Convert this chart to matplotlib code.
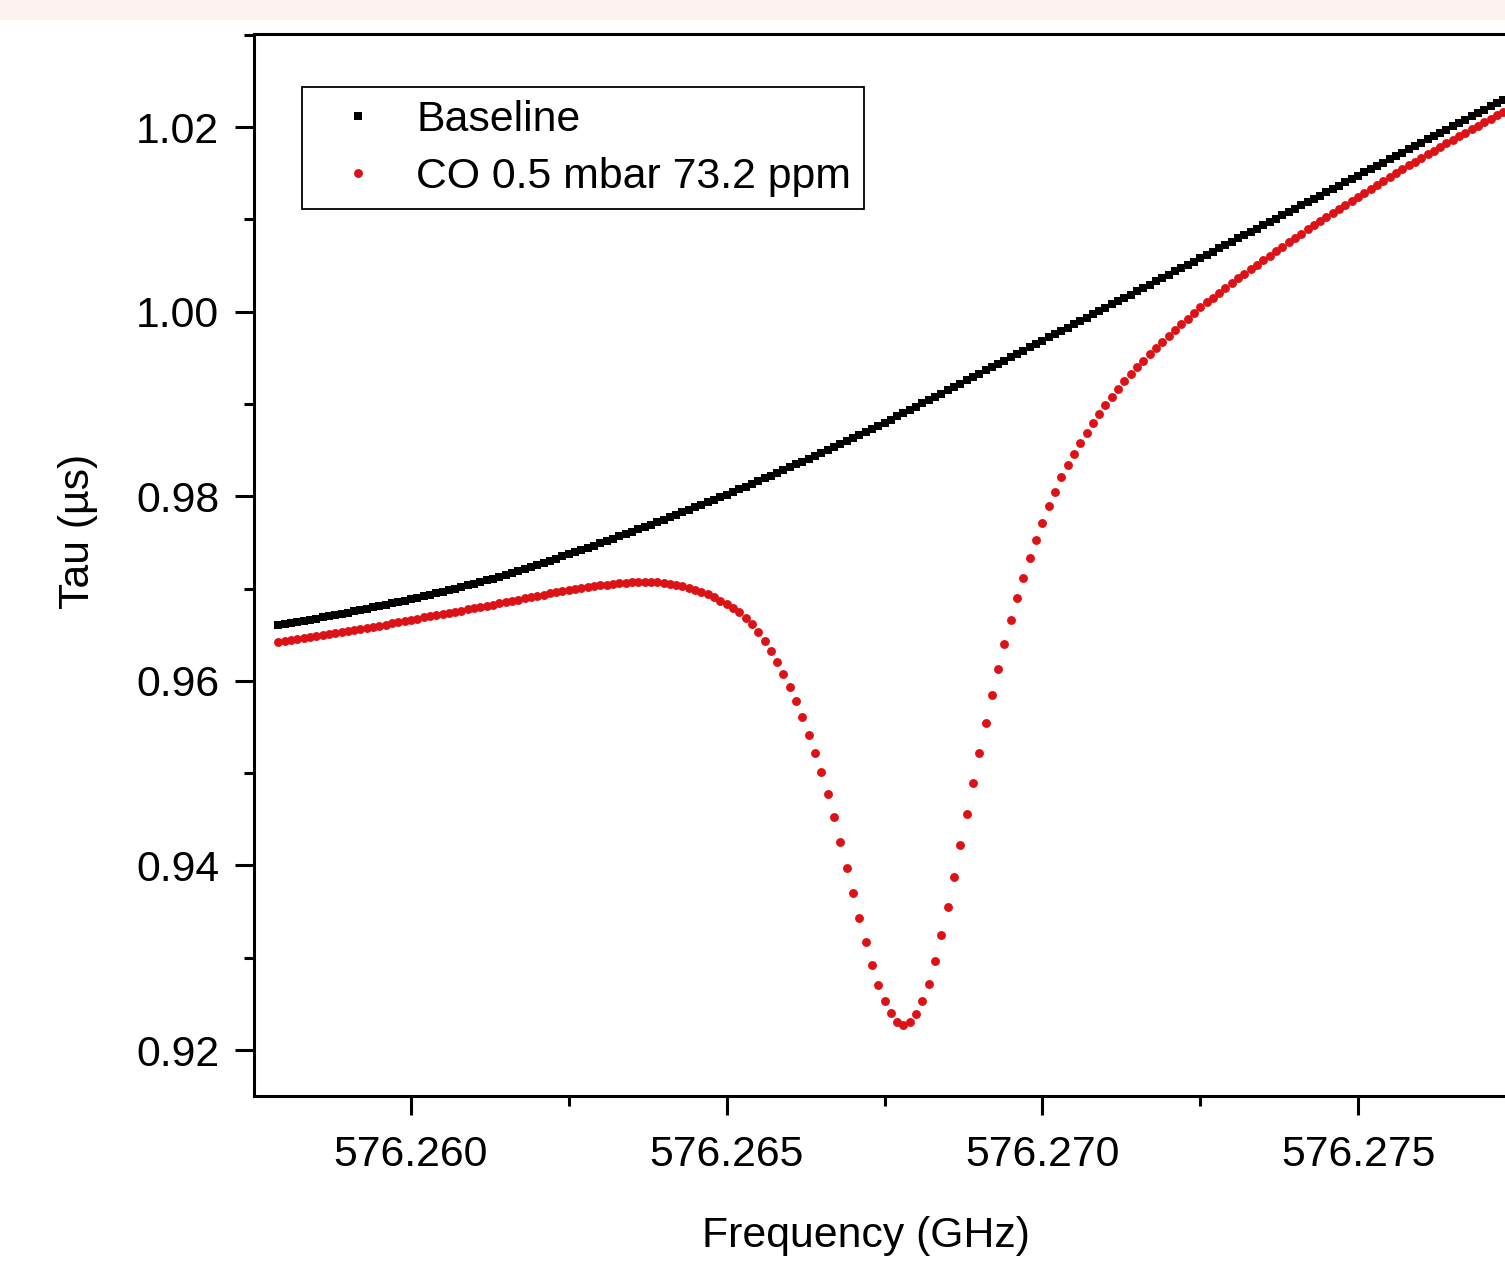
import numpy as np
import matplotlib
matplotlib.use('Agg')
import matplotlib.pyplot as plt
from matplotlib.ticker import MultipleLocator, FormatStrFormatter
from matplotlib.patches import Rectangle

plt.rcParams['font.family'] = ['Liberation Sans', 'DejaVu Sans']

# frequency sweep, 0.1 MHz step (GHz)
freq = np.round(576.2579 + 0.0001 * np.arange(200), 4)

# ring-down time (us)
baseline = [
    0.96606, 0.96617, 0.96627, 0.96639, 0.96651, 0.96663, 0.96675, 0.96688, 0.96700, 0.96713,
    0.96726, 0.96739, 0.96753, 0.96767, 0.96781, 0.96795, 0.96809, 0.96823, 0.96839, 0.96854,
    0.96869, 0.96885, 0.96900, 0.96917, 0.96933, 0.96949, 0.96967, 0.96983, 0.97000, 0.97017,
    0.97035, 0.97053, 0.97072, 0.97089, 0.97107, 0.97127, 0.97149, 0.97170, 0.97192, 0.97214,
    0.97235, 0.97258, 0.97280, 0.97302, 0.97325, 0.97348, 0.97372, 0.97394, 0.97418, 0.97442,
    0.97466, 0.97491, 0.97515, 0.97540, 0.97564, 0.97589, 0.97614, 0.97640, 0.97666, 0.97692,
    0.97718, 0.97744, 0.97771, 0.97797, 0.97824, 0.97852, 0.97879, 0.97907, 0.97935, 0.97962,
    0.97990, 0.98018, 0.98048, 0.98076, 0.98105, 0.98134, 0.98164, 0.98194, 0.98223, 0.98254,
    0.98284, 0.98314, 0.98345, 0.98376, 0.98407, 0.98439, 0.98470, 0.98502, 0.98533, 0.98566,
    0.98598, 0.98631, 0.98663, 0.98697, 0.98729, 0.98763, 0.98796, 0.98830, 0.98865, 0.98898,
    0.98934, 0.98970, 0.99005, 0.99041, 0.99077, 0.99113, 0.99148, 0.99184, 0.99220, 0.99256,
    0.99291, 0.99327, 0.99363, 0.99399, 0.99434, 0.99470, 0.99506, 0.99542, 0.99577, 0.99613,
    0.99649, 0.99685, 0.99720, 0.99756, 0.99792, 0.99828, 0.99863, 0.99899, 0.99935, 0.99971,
    1.00006, 1.00042, 1.00078, 1.00114, 1.00149, 1.00185, 1.00221, 1.00257, 1.00292, 1.00328,
    1.00364, 1.00400, 1.00435, 1.00471, 1.00507, 1.00543, 1.00578, 1.00614, 1.00650, 1.00686,
    1.00721, 1.00757, 1.00793, 1.00829, 1.00864, 1.00900, 1.00936, 1.00972, 1.01007, 1.01043,
    1.01079, 1.01115, 1.01150, 1.01186, 1.01222, 1.01258, 1.01293, 1.01329, 1.01365, 1.01401,
    1.01436, 1.01472, 1.01508, 1.01544, 1.01579, 1.01615, 1.01651, 1.01687, 1.01722, 1.01758,
    1.01794, 1.01830, 1.01865, 1.01901, 1.01937, 1.01973, 1.02008, 1.02044, 1.02080, 1.02116,
    1.02151, 1.02187, 1.02223, 1.02259, 1.02294, 1.02330, 1.02366, 1.02402, 1.02437, 1.02473,
]

co_sample = [
    0.96424, 0.96434, 0.96444, 0.96454, 0.96465, 0.96475, 0.96486, 0.96496, 0.96507, 0.96518,
    0.96529, 0.96540, 0.96551, 0.96561, 0.96573, 0.96585, 0.96597, 0.96609, 0.96622, 0.96635,
    0.96648, 0.96661, 0.96674, 0.96687, 0.96699, 0.96711, 0.96723, 0.96735, 0.96748, 0.96761,
    0.96774, 0.96787, 0.96800, 0.96813, 0.96826, 0.96839, 0.96852, 0.96866, 0.96880, 0.96894,
    0.96908, 0.96921, 0.96934, 0.96947, 0.96959, 0.96971, 0.96983, 0.96994, 0.97004, 0.97014,
    0.97024, 0.97033, 0.97041, 0.97049, 0.97056, 0.97063, 0.97068, 0.97072, 0.97074, 0.97073,
    0.97068, 0.97061, 0.97051, 0.97039, 0.97025, 0.97009, 0.96989, 0.96967, 0.96938, 0.96905,
    0.96869, 0.96830, 0.96789, 0.96742, 0.96686, 0.96618, 0.96534, 0.96437, 0.96323, 0.96204,
    0.96079, 0.95938, 0.95781, 0.95608, 0.95418, 0.95218, 0.95007, 0.94774, 0.94524, 0.94254,
    0.93977, 0.93701, 0.93430, 0.93170, 0.92921, 0.92704, 0.92531, 0.92401, 0.92309, 0.92276,
    0.92303, 0.92390, 0.92531, 0.92715, 0.92964, 0.93246, 0.93555, 0.93880, 0.94221, 0.94557,
    0.94893, 0.95223, 0.95543, 0.95846, 0.96133, 0.96404, 0.96659, 0.96897, 0.97119, 0.97330,
    0.97531, 0.97715, 0.97889, 0.98051, 0.98203, 0.98338, 0.98463, 0.98577, 0.98685, 0.98793,
    0.98891, 0.98988, 0.99075, 0.99162, 0.99248, 0.99324, 0.99400, 0.99470, 0.99541, 0.99606,
    0.99671, 0.99736, 0.99801, 0.99866, 0.99925, 0.99985, 1.00045, 1.00099, 1.00153, 1.00207,
    1.00261, 1.00315, 1.00364, 1.00413, 1.00462, 1.00510, 1.00559, 1.00608, 1.00657, 1.00705,
    1.00754, 1.00803, 1.00846, 1.00890, 1.00938, 1.00982, 1.01025, 1.01074, 1.01117, 1.01160,
    1.01204, 1.01247, 1.01290, 1.01334, 1.01377, 1.01419, 1.01461, 1.01502, 1.01543, 1.01584,
    1.01624, 1.01664, 1.01704, 1.01744, 1.01783, 1.01822, 1.01861, 1.01900, 1.01938, 1.01976,
    1.02014, 1.02052, 1.02089, 1.02126, 1.02163, 1.02199, 1.02235, 1.02271, 1.02307, 1.02342,
]

labels = ['Baseline', 'CO 0.5 mbar 73.2 ppm']

fig = plt.figure(figsize=(15.05, 12.71), dpi=100)
fig.patches.append(Rectangle((0, 1 - 20 / 1271), 1, 20 / 1271, transform=fig.transFigure,
                             facecolor='#fdf2f0', edgecolor='none', zorder=0))

# axes run past the right edge (cropped like the original)
ax = fig.add_axes([254 / 1505, 175 / 1271, 1346 / 1505, 1062 / 1271])

ax.plot(freq, baseline, ls='none', marker='s', ms=5.8, color='black', mew=0, label=labels[0])
ax.plot(freq, co_sample, ls='none', marker='o', ms=6.4, color='#dd1216', mew=0, label=labels[1])

ax.set_xlim(576.257514, 576.278832)
ax.set_ylim(0.91502, 1.03008)

ax.xaxis.set_major_locator(MultipleLocator(0.005))
ax.xaxis.set_minor_locator(MultipleLocator(0.0025))
ax.yaxis.set_major_locator(MultipleLocator(0.02))
ax.yaxis.set_minor_locator(MultipleLocator(0.01))
ax.xaxis.set_major_formatter(FormatStrFormatter('%.3f'))
ax.yaxis.set_major_formatter(FormatStrFormatter('%.2f'))

ax.tick_params(which='major', direction='out', length=14, width=2.2, labelsize=30.8)
ax.tick_params(which='minor', direction='out', length=7, width=2.2)
ax.tick_params(axis='y', pad=11)
ax.tick_params(axis='x', pad=14)
for s in ax.spines.values():
    s.set_linewidth(2.2)

fig.text(866 / 1505, (1271 - 1247) / 1271, 'Frequency (GHz)', ha='center', va='baseline',
         fontsize=30.8)
fig.text(78 / 1505, 1 - 531 / 1271, 'Tau (µs)', ha='center', va='center', rotation=90,
         fontsize=30.8)

leg = ax.legend(loc='upper left', bbox_to_anchor=(302 / 1505, 1 - 87 / 1271),
                bbox_transform=fig.transFigure, borderaxespad=0, fontsize=30.8,
                fancybox=False, edgecolor='black', framealpha=1, numpoints=1,
                handlelength=2.02, handletextpad=0.35, borderpad=0.3, labelspacing=0.39,
                markerscale=1.0)
leg.get_frame().set_linewidth(1.3)

fig.savefig('out.png', dpi=100)
